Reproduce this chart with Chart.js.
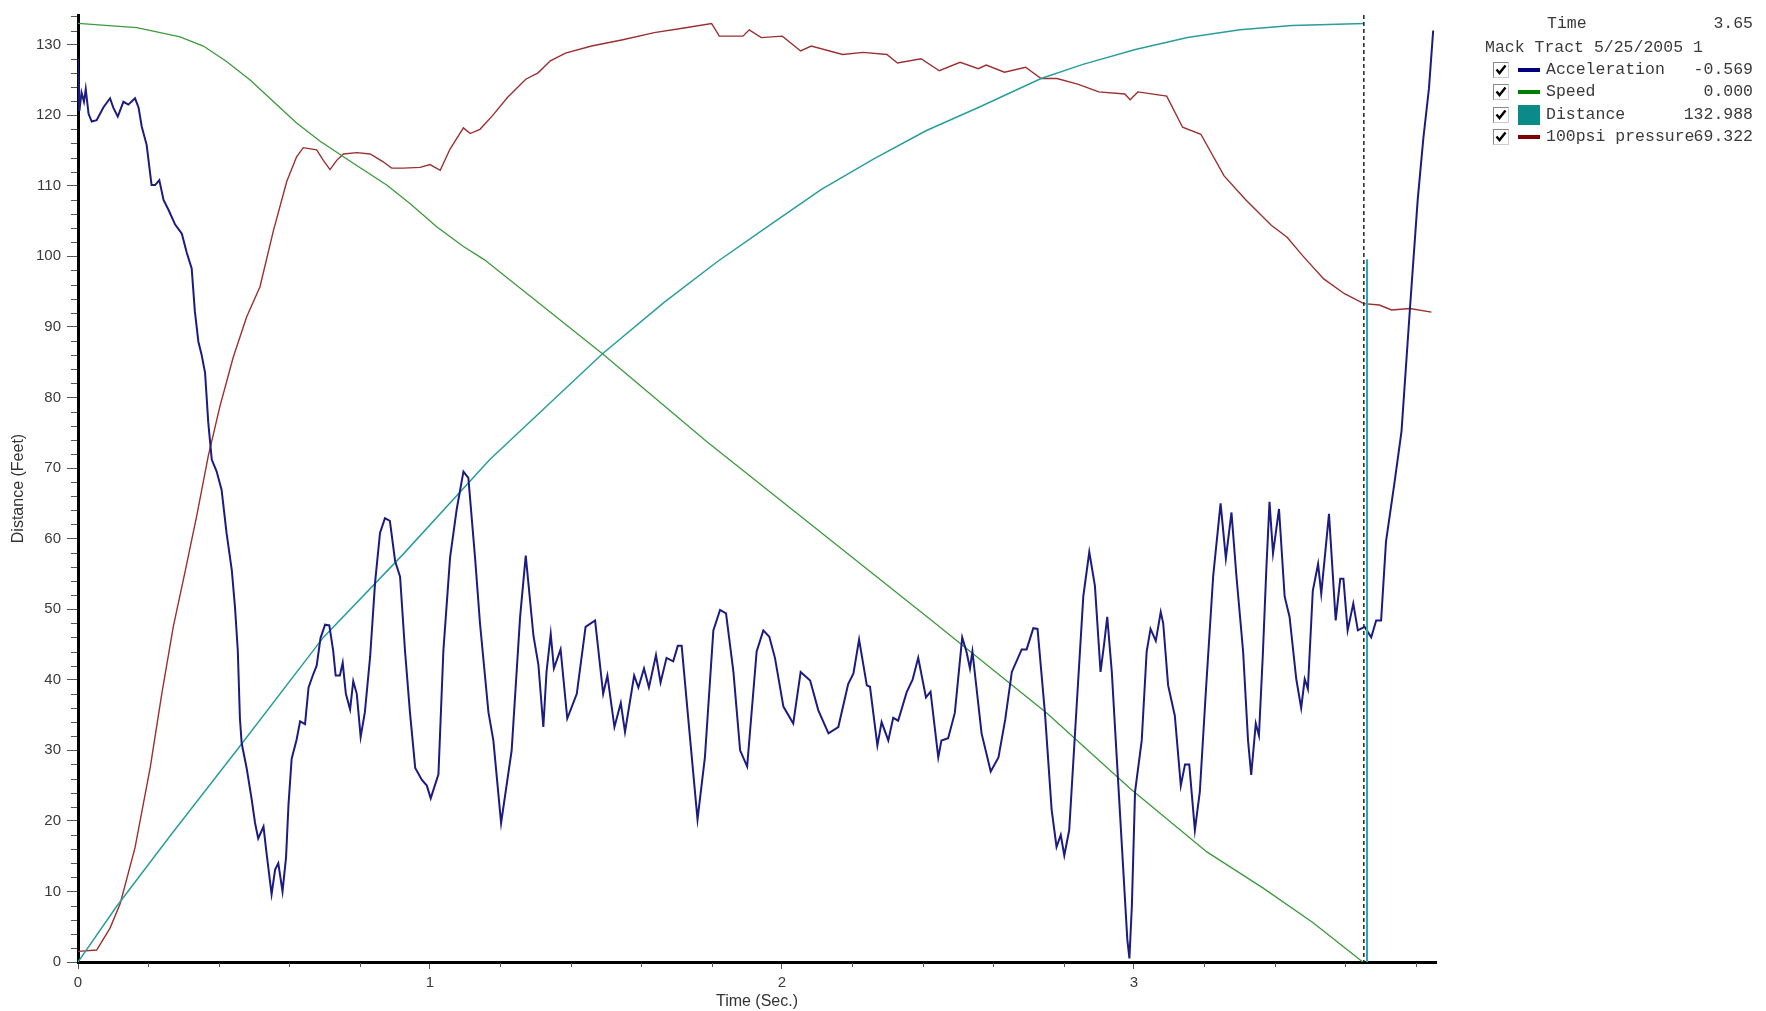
<!DOCTYPE html>
<html lang="en">
<head>
<meta charset="UTF-8">
<title>Mack Tract 5/25/2005 1</title>
<script src="https://cdn.jsdelivr.net/npm/chart.js"></script>
<style>
  body { margin: 0; background: #fff; }
  #wrap { position: relative; width: 1766px; height: 1011px; }
  .lg { position: absolute; font-family: "Liberation Mono", "Courier New", monospace; font-size: 16.5px; line-height: 20px; color: #3a3a3a; white-space: pre; }
  .cb { position: absolute; width: 14px; height: 14px; border: 1px solid #888; border-right-color: #ccc; border-bottom-color: #ccc; background: #fff; }
  .sw { position: absolute; }
</style>
</head>
<body>
<div id="wrap"><canvas id="chart"></canvas></div>
<script>
// readings taken off the plot (time in sec, value on the Distance axis)
const accTime = [0, 0.004, 0.010, 0.017, 0.022, 0.030, 0.039, 0.053, 0.072, 0.091, 0.100, 0.113, 0.129, 0.143, 0.162, 0.172, 0.181, 0.195, 0.209, 0.219,
  0.231, 0.243, 0.257, 0.276, 0.295, 0.309, 0.323, 0.332, 0.342, 0.351, 0.361, 0.370, 0.380, 0.394, 0.408, 0.422, 0.437, 0.446, 0.454, 0.460,
  0.465, 0.479, 0.493, 0.503, 0.512, 0.527, 0.536, 0.550, 0.560, 0.569, 0.581, 0.591, 0.598, 0.607, 0.621, 0.631, 0.645, 0.655, 0.667, 0.678,
  0.689, 0.702, 0.714, 0.725, 0.732, 0.744, 0.752, 0.761, 0.773, 0.782, 0.792, 0.803, 0.815, 0.830, 0.844, 0.858, 0.872, 0.886, 0.901, 0.915,
  0.929, 0.943, 0.958, 0.977, 0.991, 1.002, 1.024, 1.038, 1.057, 1.076, 1.095, 1.109, 1.128, 1.142, 1.166, 1.180, 1.202, 1.232, 1.256, 1.272,
  1.294, 1.308, 1.322, 1.331, 1.343, 1.352, 1.371, 1.390, 1.417, 1.442, 1.469, 1.492, 1.504, 1.524, 1.542, 1.554, 1.580, 1.592, 1.608, 1.622,
  1.642, 1.655, 1.672, 1.691, 1.704, 1.715, 1.734, 1.760, 1.781, 1.805, 1.824, 1.841, 1.862, 1.881, 1.901, 1.928, 1.947, 1.964, 1.980, 2.004,
  2.032, 2.053, 2.080, 2.103, 2.132, 2.160, 2.188, 2.203, 2.219, 2.241, 2.250, 2.271, 2.283, 2.302, 2.316, 2.330, 2.354, 2.371, 2.387, 2.409,
  2.422, 2.444, 2.453, 2.472, 2.491, 2.512, 2.524, 2.534, 2.541, 2.567, 2.593, 2.615, 2.634, 2.653, 2.681, 2.695, 2.714, 2.726, 2.747, 2.766,
  2.780, 2.792, 2.802, 2.816, 2.837, 2.856, 2.873, 2.889, 2.905, 2.915, 2.924, 2.937, 2.951, 2.968, 2.981, 2.987, 2.994, 3.003, 3.022, 3.036,
  3.047, 3.062, 3.076, 3.083, 3.097, 3.116, 3.133, 3.145, 3.157, 3.173, 3.187, 3.204, 3.225, 3.246, 3.261, 3.277, 3.291, 3.310, 3.324, 3.333,
  3.346, 3.355, 3.366, 3.376, 3.385, 3.395, 3.412, 3.428, 3.442, 3.461, 3.475, 3.485, 3.494, 3.508, 3.523, 3.532, 3.554, 3.573, 3.586, 3.595,
  3.607, 3.623, 3.636, 3.655, 3.674, 3.688, 3.702, 3.716, 3.740, 3.760, 3.784, 3.806, 3.822, 3.838, 3.850];
const accValue = [128, 120.6, 123.2, 121.9, 123.7, 120.2, 119.1, 119.3, 121.1, 122.4, 121.1, 119.8, 121.9, 121.5, 122.4, 121.1, 118.4, 115.8, 110.1, 110.1,
  110.8, 108, 106.6, 104.5, 103.2, 100.5, 98.3, 92.2, 87.9, 86.1, 83.5, 76.5, 71.2, 69.5, 66.9, 60.8, 55.5, 50.3, 44.1, 34.5,
  31, 27.5, 23.2, 19.7, 17.5, 19.2, 15.3, 9.6, 13.1, 14, 10, 14.8, 22.3, 28.8, 31.5, 34.1, 33.7, 38.9, 40.6, 42,
  45.9, 47.8, 47.7, 44.1, 40.6, 40.6, 42.4, 38, 35.8, 39.8, 38, 31.9, 35.4, 43.3, 53.8, 60.8, 62.9, 62.5, 56.8, 54.6,
  44.1, 35.4, 27.5, 25.8, 25, 23.2, 26.6, 44.1, 57.3, 64.2, 69.5, 68.6, 57.3, 48, 35.4, 31.4, 19.7, 30, 48.9, 57.6,
  46.2, 42.1, 33.3, 41.1, 46.5, 41.6, 44.3, 34.5, 38, 47.5, 48.4, 38, 40.6, 33.3, 36.7, 32.6, 40.6, 38.9, 41.6, 38.9,
  43.5, 39.6, 43.1, 42.6, 44.8, 44.8, 34.3, 20.2, 29, 47, 49.9, 49.4, 41.1, 30, 27.7, 44, 47, 46.1, 43.1, 36.2,
  33.8, 41.1, 39.9, 35.7, 32.4, 33.3, 39.4, 40.9, 45.7, 39.2, 39, 30.7, 34, 31.4, 34.6, 34.2, 38.2, 40, 43.1, 37.5,
  38.3, 29, 31.4, 31.7, 35.3, 46, 44, 41.6, 44, 32.4, 27, 29, 34.3, 41.1, 44.3, 44.3, 47.3, 47.2, 35.3, 21.6,
  16.3, 18, 15.1, 18.7, 36.2, 51.8, 58.1, 53.3, 41.1, 45, 48.9, 41.1, 29, 14.4, 3.2, 0.5, 8, 24.1, 31.4, 44,
  47.2, 45.5, 49.6, 48, 39.2, 34.9, 25, 28, 28, 18.7, 24.1, 38.2, 54.7, 65, 57.2, 63.7, 54.7, 44, 31.4, 26.5,
  33.8, 32.1, 43.5, 55.7, 65.2, 57.9, 64.2, 51.8, 48.9, 40.1, 36, 40.1, 38.7, 52.6, 56.4, 52.2, 63.5, 48.4, 54.3, 54.3,
  47, 50.8, 47, 47.5, 46, 48.4, 48.4, 59.6, 67.9, 75.2, 92.6, 108, 116.7, 123.8, 132];

const spdTime = [0, 0.167, 0.290, 0.356, 0.422, 0.489, 0.545, 0.621, 0.688, 0.782, 0.877, 0.943, 1.019, 1.095, 1.155, 1.490, 1.785, 2.420, 2.752, 2.989, 3.207, 3.366, 3.508, 3.650];
const spdValue = [133, 132.4, 131.1, 129.8, 127.6, 125, 122.4, 118.9, 116.3, 113.2, 110.1, 107.5, 104.2, 101.4, 99.5, 86.2, 73.8, 48.6, 35.3, 24.6, 15.6, 10.5, 5.6, 0];

const distTime = [0, 0.110, 0.262, 0.451, 0.697, 0.924, 1.170, 1.490, 1.666, 1.815, 1.964, 2.112, 2.261, 2.409, 2.558, 2.736, 2.855, 3.004, 3.152, 3.301, 3.449, 3.653];
const distValue = [0, 7.9, 17.9, 30, 46, 57.8, 71.2, 86.2, 93.5, 99.2, 104.4, 109.5, 113.8, 117.8, 121.1, 125.2, 127.2, 129.3, 131, 132.1, 132.7, 133];

const presTime = [0, 0.053, 0.091, 0.120, 0.162, 0.205, 0.238, 0.271, 0.305, 0.338, 0.370, 0.403, 0.441, 0.479, 0.517, 0.555, 0.593, 0.621, 0.640, 0.678,
  0.697, 0.716, 0.735, 0.754, 0.792, 0.830, 0.867, 0.891, 0.924, 0.972, 1.000, 1.029, 1.057, 1.081, 1.095, 1.114, 1.142, 1.177, 1.220, 1.272,
  1.307, 1.342, 1.385, 1.459, 1.548, 1.637, 1.726, 1.800, 1.822, 1.889, 1.907, 1.941, 2.001, 2.053, 2.083, 2.172, 2.231, 2.298, 2.328, 2.395,
  2.447, 2.506, 2.558, 2.580, 2.632, 2.692, 2.736, 2.781, 2.840, 2.900, 2.974, 2.989, 3.011, 3.093, 3.138, 3.190, 3.256, 3.316, 3.390, 3.435,
  3.479, 3.539, 3.598, 3.653, 3.697, 3.732, 3.784, 3.845];
const presValue = [1.5, 1.7, 4.8, 8.3, 16.2, 27.5, 38, 47.6, 55.5, 63.4, 71.7, 78.7, 85.7, 91.4, 95.7, 103.6, 110.6, 114.1, 115.4, 115.1,
  113.6, 112.3, 113.6, 114.5, 114.7, 114.5, 113.4, 112.5, 112.5, 112.6, 113, 112.2, 115.2, 117.1, 118.2, 117.4, 118, 119.9, 122.5, 125.1,
  126, 127.7, 128.8, 129.8, 130.7, 131.7, 132.4, 133, 131.2, 131.2, 132.1, 131, 131.2, 129.1, 129.8, 128.6, 128.9, 128.6, 127.4, 128,
  126.3, 127.5, 126.6, 127.1, 126.1, 126.8, 125.2, 125.2, 124.4, 123.3, 123, 122.2, 123.3, 122.7, 118.3, 117.3, 111.4, 108.1, 104.4, 102.7,
  100.1, 96.8, 94.7, 93.3, 93.1, 92.4, 92.6, 92.1];

const seriesNames = ['Acceleration', 'Speed', 'Distance', '100psi pressure'];
const legendValues = ['-0.569', '0.000', '132.988', '69.322'];
const seriesColors = ['#1c1c80', '#3c9a3c', '#2a9d9d', '#9a3030'];
const swatchColors = ['#000080', '#008000', '#0b8a8a', '#800000'];
const headerTime = '3.65';
const runName = 'Mack Tract 5/25/2005 1';

const xTickValues = [0, 1, 2, 3];
const yTickValues = [0, 10, 20, 30, 40, 50, 60, 70, 80, 90, 100, 110, 120, 130];
const xRange = [0, 3.858];
const yRange = [0, 134.2];
const cursorTime = 3.653;
const markerTime = 3.662;
const markerRange = [0, 99.6];

const toPts = (t, v) => t.map((x, i) => ({x, y: v[i]}));
const seriesPts = [toPts(accTime, accValue), toPts(spdTime, spdValue), toPts(distTime, distValue), toPts(presTime, presValue)];
const widths = [2, 1.3, 1.5, 1.4];

Chart.defaults.font.family = '"Liberation Sans", Arial, sans-serif';

const extras = {
  id: 'extras',
  afterDatasetsDraw(chart) {
    const {ctx, chartArea, scales: {x, y}} = chart;
    ctx.save();
    // minor ticks
    ctx.strokeStyle = '#555';
    ctx.lineWidth = 1;
    ctx.beginPath();
    for (let v = 2; v < yRange[1]; v += 2) {
      if (v % 10 === 0) continue;
      const py = Math.round(y.getPixelForValue(v)) + 0.5;
      ctx.moveTo(chartArea.left - 7, py);
      ctx.lineTo(chartArea.left - 1, py);
    }
    for (let k = 1; k * 0.2 < xRange[1]; k++) {
      if (k % 5 === 0) continue;
      const px = Math.round(x.getPixelForValue(k * 0.2)) + 0.5;
      ctx.moveTo(px, chartArea.bottom + 1);
      ctx.lineTo(px, chartArea.bottom + 5);
    }
    ctx.stroke();
    // cursor
    const cx = x.getPixelForValue(cursorTime);
    ctx.strokeStyle = '#222';
    ctx.lineWidth = 1.5;
    ctx.setLineDash([4, 3]);
    ctx.beginPath();
    ctx.moveTo(cx, chartArea.top);
    ctx.lineTo(cx, chartArea.bottom);
    ctx.stroke();
    ctx.setLineDash([]);
    const mx = x.getPixelForValue(markerTime);
    ctx.strokeStyle = '#2aa7b0';
    ctx.lineWidth = 2;
    ctx.beginPath();
    ctx.moveTo(mx, y.getPixelForValue(markerRange[1]));
    ctx.lineTo(mx, y.getPixelForValue(markerRange[0]));
    ctx.stroke();
    ctx.restore();
  }
};

new Chart(document.getElementById('chart'), {
  type: 'scatter',
  data: {
    datasets: seriesNames.map((name, i) => ({
      label: name,
      data: seriesPts[i],
      showLine: true,
      borderColor: seriesColors[i],
      borderWidth: widths[i],
      pointRadius: 0,
      tension: 0
    }))
  },
  options: {
    responsive: true,
    maintainAspectRatio: false,
    animation: false,
    layout: { padding: { top: 12, right: 330, left: 0, bottom: 0 } },
    plugins: { legend: { display: false }, tooltip: { enabled: false } },
    scales: {
      x: {
        type: 'linear',
        min: xRange[0], max: xRange[1],
        afterBuildTicks: s => { s.ticks = xTickValues.map(value => ({value})); },
        afterFit: s => { s.height = 49; },
        ticks: { color: '#3a3a3a', font: { size: 15 }, padding: 5, maxRotation: 0, callback: v => String(v) },
        grid: { drawOnChartArea: false, drawTicks: true, tickLength: 7, tickColor: '#555' },
        border: { display: true, color: '#000', width: 3 },
        title: { display: true, text: 'Time (Sec.)', color: '#333', font: { size: 16 }, padding: { top: 0, bottom: 0 } }
      },
      y: {
        type: 'linear',
        min: yRange[0], max: yRange[1],
        afterBuildTicks: s => { s.ticks = yTickValues.map(value => ({value})); },
        afterFit: s => { s.width = 78; },
        ticks: { color: '#3a3a3a', font: { size: 15 }, padding: 6, callback: v => String(v) },
        grid: { drawOnChartArea: false, drawTicks: true, tickLength: 11, tickColor: '#555' },
        border: { display: true, color: '#000', width: 3 },
        title: { display: true, text: 'Distance (Feet)', color: '#333', font: { size: 16 }, padding: { top: 9, bottom: 0 } }
      }
    }
  },
  plugins: [extras]
});

// legend panel
const wrap = document.getElementById('wrap');
function addText(txt, css) {
  const d = document.createElement('div');
  d.className = 'lg';
  d.textContent = txt;
  Object.assign(d.style, css);
  wrap.appendChild(d);
}
addText('Time', { left: '1547px', top: '14px' });
addText(headerTime, { right: '13px', top: '14px' });
addText(runName, { left: '1485px', top: '38px' });
const rowY = [70, 92, 115, 137];
seriesNames.forEach((name, i) => {
  const cy = rowY[i];
  const cb = document.createElement('div');
  cb.className = 'cb';
  cb.style.left = '1493px';
  cb.style.top = (cy - 8) + 'px';
  cb.innerHTML = '<svg width="14" height="14" viewBox="0 0 14 14"><path d="M2.5 6.5 L5.5 10 L11.5 2.5" fill="none" stroke="#000" stroke-width="2.4"/></svg>';
  wrap.appendChild(cb);
  const sw = document.createElement('div');
  sw.className = 'sw';
  sw.style.left = '1518px';
  sw.style.width = '22px';
  sw.style.background = swatchColors[i];
  if (name === 'Distance') { sw.style.top = (cy - 10) + 'px'; sw.style.height = '20px'; }
  else { sw.style.top = (cy - 2) + 'px'; sw.style.height = '4px'; }
  wrap.appendChild(sw);
  addText(name, { left: '1546px', top: (cy - 10) + 'px' });
  addText(legendValues[i], { right: '13px', top: (cy - 10) + 'px' });
});
</script>
</body>
</html>
